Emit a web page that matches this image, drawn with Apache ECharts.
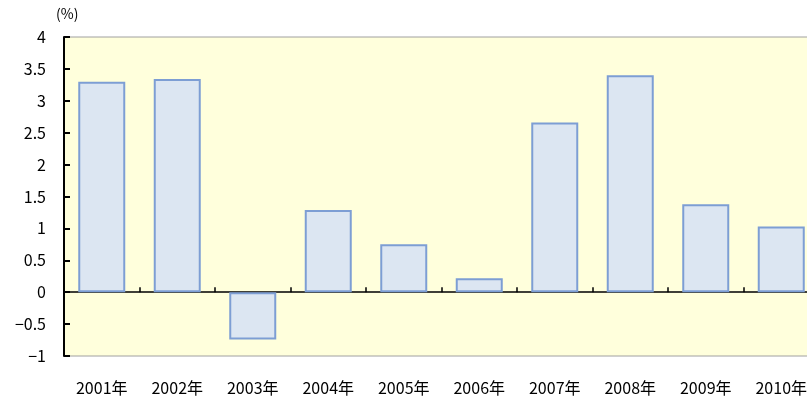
<!DOCTYPE html>
<html><head><meta charset="utf-8">
<script src="https://cdn.jsdelivr.net/npm/echarts@6/dist/echarts.min.js"></script>
<style>html,body{margin:0;padding:0;background:#fff}#c{width:807px;height:407px}</style>
</head><body><div id="c"></div>
<script>
var categories = ['2001年','2002年','2003年','2004年','2005年','2006年','2007年','2008年','2009年','2010年'];
var values = [3.3, 3.34, -0.74, 1.29, 0.75, 0.22, 2.66, 3.4, 1.38, 1.03];
var yTicks = {min: -1, max: 4, interval: 0.5};

var chart = echarts.init(document.getElementById('c'));
var font = '"Noto Sans CJK JP", "DejaVu Sans", sans-serif';
chart.setOption({
  animation: false,
  grid: {left: 64, top: 37, width: 755, height: 319, outerBoundsMode: 'none', containLabel: false,
    show: true, backgroundColor: '#FFFFDC', borderColor: '#A0A0A0', borderWidth: 1},
  graphic: [{type: 'text', left: 56, top: 7, style: {text: '(%)', font: '14px ' + font, fill: '#000'}}],
  xAxis: [{
    type: 'category', data: categories, boundaryGap: true,
    axisLine: {onZero: true, lineStyle: {color: '#000', width: 1.5}},
    axisTick: {show: true, inside: true, length: 5, lineStyle: {color: '#000', width: 1.5}},
    axisLabel: {show: false}, splitLine: {show: false}
  }, {
    type: 'category', data: categories, position: 'bottom', boundaryGap: true,
    axisLine: {show: false, onZero: false}, axisTick: {show: false},
    axisLabel: {show: true, margin: 24, color: '#000', fontSize: 16, fontFamily: font}
  }],
  yAxis: {
    type: 'value', min: yTicks.min, max: yTicks.max, interval: yTicks.interval,
    axisLine: {show: true, lineStyle: {color: '#000', width: 2}},
    axisTick: {show: true, inside: true, length: 6, lineStyle: {color: '#000', width: 2}},
    axisLabel: {color: '#000', fontSize: 16, fontFamily: font, margin: 18,
      formatter: function (v) { return String(v).replace('-', '\u2212'); }},
    splitLine: {show: false}
  },
  series: [{
    type: 'bar', data: values, xAxisIndex: 0, barWidth: 47,
    itemStyle: {color: '#DCE6F2', borderColor: '#7D9ED4', borderWidth: 2}
  }]
});
</script></body></html>
